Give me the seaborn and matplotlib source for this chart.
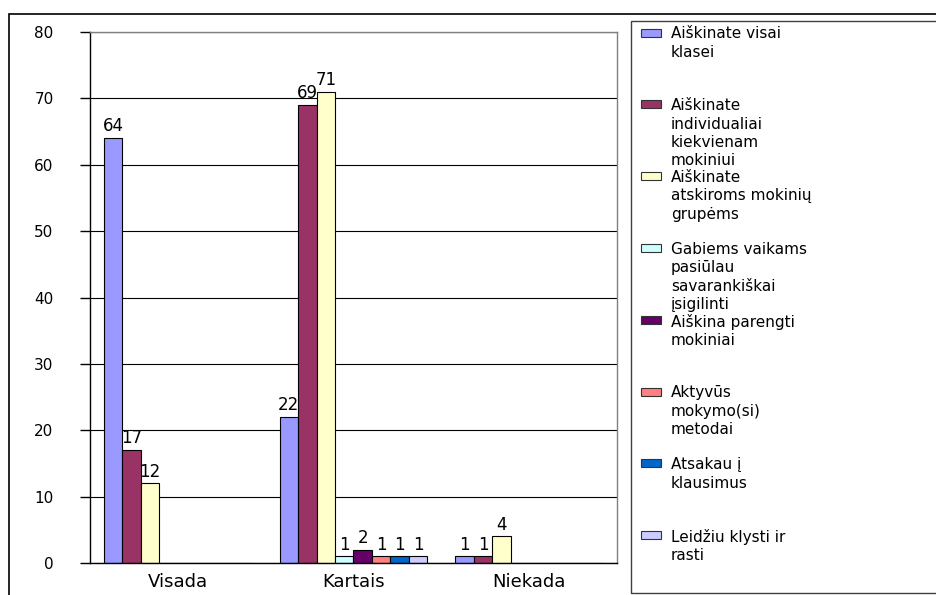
import matplotlib
matplotlib.use("Agg")
import matplotlib.pyplot as plt
from matplotlib.patches import Rectangle
import pandas as pd
import seaborn as sns

# --- data -------------------------------------------------------------
categories = ["Visada", "Kartais", "Niekada"]
series_names = [
    "Aiškinate visai klasei",
    "Aiškinate individualiai kiekvienam mokiniui",
    "Aiškinate atskiroms mokinių grupėms",
    "Gabiems vaikams pasiūlau savarankiškai įsigilinti",
    "Aiškina parengti mokiniai",
    "Aktyvūs mokymo(si) metodai",
    "Atsakau į klausimus",
    "Leidžiu klysti ir rasti",
]
legend_labels = [
    "Aiškinate visai\nklasei",
    "Aiškinate\nindividualiai\nkiekvienam\nmokiniui",
    "Aiškinate\natskiroms mokinių\ngrupėms",
    "Gabiems vaikams\npasiūlau\nsavarankiškai\nįsigilinti",
    "Aiškina parengti\nmokiniai",
    "Aktyvūs\nmokymo(si)\nmetodai",
    "Atsakau į\nklausimus",
    "Leidžiu klysti ir\nrasti",
]
visada = [64, 17, 12, 0, 0, 0, 0, 0]
kartais = [22, 69, 71, 1, 2, 1, 1, 1]
niekada = [1, 1, 4, 0, 0, 0, 0, 0]
colors = ["#9999FF", "#993366", "#FFFFCC", "#CCFFFF",
          "#660066", "#FF8080", "#0066CC", "#CCCCFF"]
y_ticks = [0, 10, 20, 30, 40, 50, 60, 70, 80]

rows = []
for cat, vals in zip(categories, [visada, kartais, niekada]):
    for name, v in zip(series_names, vals):
        rows.append({"kategorija": cat, "serija": name, "reiksme": v})
df = pd.DataFrame(rows)

# --- figure -----------------------------------------------------------
sns.set_style("white")
plt.rcParams["font.family"] = ["DejaVu Sans"]
plt.rcParams["text.color"] = "black"
plt.rcParams["xtick.labelcolor"] = "black"
plt.rcParams["ytick.labelcolor"] = "black"

W, H = 937, 595
fig = plt.figure(figsize=(W / 100, H / 100), dpi=100)
fig.patch.set_facecolor("white")

ax = fig.add_axes([90 / W, (H - 563) / H, 527 / W, 531 / H])

sns.barplot(data=df, x="kategorija", y="reiksme", hue="serija",
            order=categories, hue_order=series_names, palette=colors,
            saturation=1, width=0.842, edgecolor="black", linewidth=0.8,
            legend=False, ax=ax)

# value labels over non-zero bars
series_values = list(zip(visada, kartais, niekada))
for container, vals in zip(ax.containers, series_values):
    ax.bar_label(container, labels=[str(v) if v else "" for v in vals],
                 padding=2, fontsize=12, color="black")

ax.set_ylim(0, 80)
ax.set_xlim(-0.5, 2.5)
ax.set_yticks(y_ticks)
ax.set_axisbelow(True)
ax.yaxis.grid(True, color="black", linewidth=0.8)
ax.set_xlabel("")
ax.set_ylabel("")

ax.set_xticks(range(len(categories)))
ax.set_xticklabels(categories)
ax.set_xticks([-0.5, 0.5, 1.5, 2.5], minor=True)
ax.tick_params(axis="x", which="major", length=0, pad=7, labelsize=13,
               labelcolor="black")
ax.tick_params(axis="x", which="minor", length=3.6, width=1,
               direction="out", color="black")
ax.tick_params(axis="y", length=7.2, width=1, direction="out",
               color="black", pad=19, labelsize=11, left=True,
               labelcolor="black")

for side in ("left", "bottom"):
    ax.spines[side].set_color("black")
    ax.spines[side].set_linewidth(1)
for side in ("top", "right"):
    ax.spines[side].set_color("#808080")
    ax.spines[side].set_linewidth(1)

# outer chart frame
fig.patches.append(Rectangle((9 / W, -0.1), 1.0, (H - 14) / H + 0.1,
                             transform=fig.transFigure, fill=False,
                             edgecolor="black", linewidth=1.2))

# legend box on the right
fig.patches.append(Rectangle((631 / W, (H - 593) / H), 1.0, (593 - 21) / H,
                             transform=fig.transFigure, fill=False,
                             edgecolor="#404040", linewidth=1.0))

y_first, step = 32.5, 71.8
for i, (label, color) in enumerate(zip(legend_labels, colors)):
    cy = y_first + i * step
    fig.patches.append(Rectangle((641 / W, (H - cy - 4) / H), 20 / W, 8 / H,
                                 transform=fig.transFigure, facecolor=color,
                                 edgecolor="#333333", linewidth=0.8))
    fig.text(671 / W, (H - cy + 6) / H, label, ha="left", va="top",
             fontsize=11, linespacing=1.28, color="black")

fig.savefig("out.png", dpi=100)
